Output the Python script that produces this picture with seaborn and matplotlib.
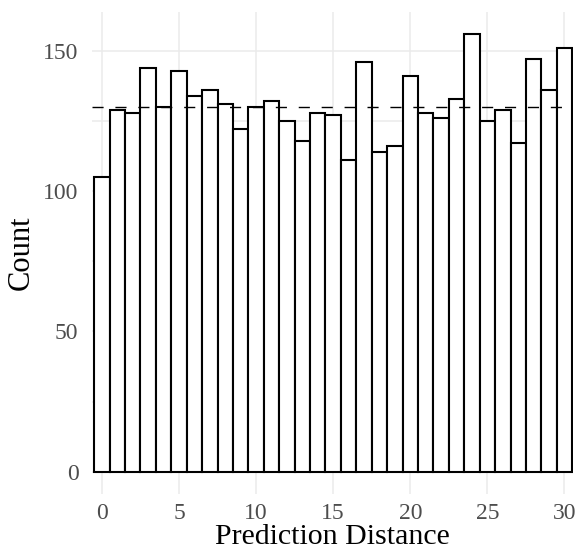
import matplotlib
matplotlib.use("Agg")
import matplotlib.pyplot as plt
import seaborn as sns
import numpy as np
import pandas as pd

# counts per prediction distance
distance = list(range(31))
counts = [105, 129, 128, 144, 130, 143, 134, 136, 131, 122,
          130, 132, 125, 118, 128, 127, 111, 146, 114, 116,
          141, 128, 126, 133, 156, 125, 129, 117, 147, 136, 151]
expected = 130
x_ticks = [0, 5, 10, 15, 20, 25, 30]
y_ticks = [0, 50, 100, 150]
y_minor = [25, 75, 125]

df = pd.DataFrame({"distance": distance, "count": counts})

sns.set_theme(style="white")
plt.rcParams['font.family'] = ['Liberation Serif', 'DejaVu Serif']

fig = plt.figure(figsize=(5.78, 5.53), dpi=100)
ax = fig.add_axes([0.1597, 0.1074, 0.8316, 0.8706])

grid_col = "#EBEBEB"
for t in x_ticks:
    ax.axvline(t, color=grid_col, lw=1.1, zorder=0)
for t in y_ticks + y_minor:
    ax.axhline(t, color=grid_col, lw=1.1, zorder=0)

sns.histplot(data=df, x="distance", weights="count", discrete=True, shrink=1,
             color="white", edgecolor="black", linewidth=1.5, alpha=1,
             ax=ax, zorder=2)

ax.axhline(expected, color="black", lw=1.0, linestyle=(0, (8, 8.5)), zorder=3)

ax.set_xlim(-0.62, 30.55)
ax.set_ylim(-7.8, 163.8)
ax.set_xticks(x_ticks)
ax.set_yticks(y_ticks)
ax.tick_params(axis="both", length=0, labelsize=17, labelcolor="#4D4D4D")
ax.tick_params(axis="x", pad=7)
ax.tick_params(axis="y", pad=10)
for s in ax.spines.values():
    s.set_visible(False)

ax.set_xlabel("Prediction Distance", fontsize=21.5, color="black", labelpad=0)
ax.set_ylabel("Count", fontsize=22, color="black", labelpad=5)

fig.savefig("out.png", dpi=100)
